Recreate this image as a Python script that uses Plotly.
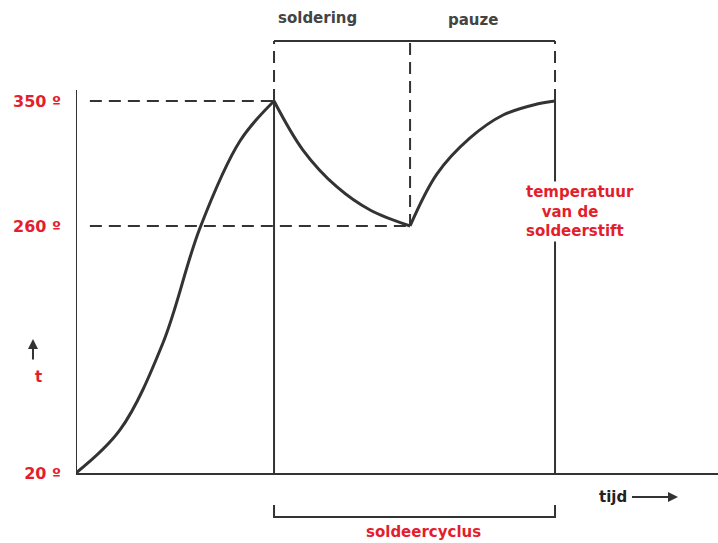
import numpy as np
import plotly.graph_objects as go

# --- data (time in arbitrary units, temperature in degrees C) ---
heat_time = [0, 2.22, 4.39, 6.26, 8.28, 10]
heat_temp = [20, 61.8, 146.3, 258.1, 321.2, 350]
solder_time = [10, 11.46, 13.18, 14.85, 16.87]
solder_temp = [350, 314.7, 288.1, 271.5, 260]
pause_time = [16.87, 18.23, 19.9, 21.57, 23.28, 24.19]
pause_temp = [260, 297.5, 323.4, 339.9, 347.8, 350]

tick_temps = [20, 260, 350]
tick_labels = ["20 º", "260 º", "350 º"]

t_solder_start = 10
t_solder_end = 16.87
t_pause_end = 24.19

# schematic (non-linear) temperature scale of the drawing
scale_temps = [20, 260, 350]
scale_levels = [0, 247, 372]


def lvl(temp):
    return np.interp(temp, scale_temps, scale_levels)


DARK = "#333333"
RED = "#e31e2d"
FONT = "DejaVu Sans"
X_MAX = 32.42
Y_MIN, Y_MAX = -70, 473
TOP = 432        # level of the top bracket
AX_TOP = 383     # top of the vertical axis line

fig = go.Figure()
for tx, ty in [(heat_time, heat_temp), (solder_time, solder_temp), (pause_time, pause_temp)]:
    fig.add_trace(go.Scatter(
        x=tx, y=lvl(np.array(ty)), mode="lines",
        line=dict(color=DARK, width=3, shape="spline", smoothing=1.0),
        hoverinfo="skip", showlegend=False, cliponaxis=False))

solid = dict(color=DARK, width=2)
dashed = dict(color=DARK, width=2, dash="12px,7px")
shapes = [
    # axes
    dict(type="line", x0=0, x1=0, y0=-1, y1=AX_TOP, line=solid),
    dict(type="line", x0=0, x1=X_MAX, y0=-1, y1=-1, line=solid),
    # dashed horizontals
    dict(type="line", x0=0.7, x1=t_solder_start, y0=lvl(350), y1=lvl(350), line=dashed),
    dict(type="line", x0=0.7, x1=t_solder_end, y0=lvl(260), y1=lvl(260), line=dashed),
    # verticals
    dict(type="line", x0=t_solder_start, x1=t_solder_start, y0=lvl(350), y1=TOP, line=dashed),
    dict(type="line", x0=t_solder_start, x1=t_solder_start, y0=-1, y1=lvl(350), line=solid),
    dict(type="line", x0=t_solder_end, x1=t_solder_end, y0=lvl(260), y1=TOP, line=dashed),
    dict(type="line", x0=t_pause_end, x1=t_pause_end, y0=lvl(350), y1=TOP, line=dashed),
    dict(type="line", x0=t_pause_end, x1=t_pause_end, y0=-1, y1=lvl(350), line=solid),
    # top bracket
    dict(type="line", x0=t_solder_start, x1=t_pause_end, y0=TOP, y1=TOP, line=solid),
    # bottom bracket
    dict(type="path",
         path=f"M {t_solder_start},-32 L {t_solder_start},-44 L {t_pause_end},-44 L {t_pause_end},-32",
         line=solid),
]

annotations = [
    dict(x=12.17, y=455, text="<b>soldering</b>", showarrow=False,
         font=dict(family=FONT, size=15, color="#444444")),
    dict(x=20.05, y=453, text="<b>pauze</b>", showarrow=False,
         font=dict(family=FONT, size=15, color="#444444")),
    dict(x=22.6, y=262, xanchor="left", align="left",
         text="<b>temperatuur<br>&nbsp;&nbsp;&nbsp;van de<br>soldeerstift</b>",
         showarrow=False, bgcolor="white",
         font=dict(family=FONT, size=15, color=RED)),
    dict(x=26.3, y=-24, xanchor="left", text="<b>tijd</b>", showarrow=False,
         font=dict(family=FONT, size=15, color="#222222")),
    dict(x=30.4, y=-24, ax=28.0, ay=-24, axref="x", ayref="y", text="",
         showarrow=True, arrowhead=2, arrowsize=1, arrowwidth=2, arrowcolor=DARK),
    dict(x=(t_solder_start + t_pause_end) / 2 + 0.45, y=-59, text="<b>soldeercyclus</b>",
         showarrow=False, font=dict(family=FONT, size=15, color=RED)),
    dict(xref="paper", x=-0.067, y=96, text="<b>t</b>", showarrow=False,
         font=dict(family=FONT, size=15, color=RED)),
    dict(xref="paper", x=-0.067, y=134, ax=0, ay=22, text="",
         showarrow=True, arrowhead=2, arrowsize=1, arrowwidth=2, arrowcolor=DARK),
]

fig.update_layout(
    width=718, height=543,
    margin=dict(l=76, r=0, t=0, b=0),
    paper_bgcolor="white", plot_bgcolor="white",
    shapes=shapes, annotations=annotations,
    xaxis=dict(range=[0, X_MAX], visible=False, fixedrange=True),
    yaxis=dict(range=[Y_MIN, Y_MAX], tickmode="array",
               tickvals=lvl(np.array(tick_temps)), ticktext=[f"<b>{s}</b>" for s in tick_labels],
               showgrid=False, zeroline=False, showline=False, ticks="",
               ticklabelstandoff=14,
               tickfont=dict(family=FONT, size=16, color=RED), fixedrange=True),
)

fig.write_html("out.html", config={"displayModeBar": False},
               post_script="document.body.style.margin='0px';")
